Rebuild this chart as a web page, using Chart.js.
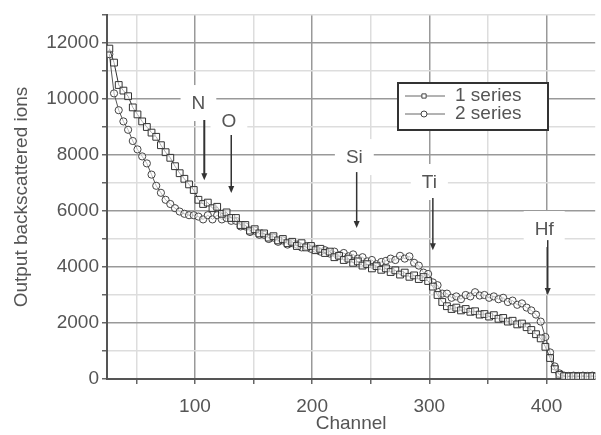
<!DOCTYPE html>
<html>
<head>
<meta charset="utf-8">
<script src="https://cdn.jsdelivr.net/npm/chart.js@4.4.0/dist/chart.umd.min.js"></script>
<style>
  html, body { margin: 0; padding: 0; background: #fff; }
  #wrap { position: relative; width: 601px; height: 435px; }
</style>
</head>
<body>
<div id="wrap"><canvas id="rbsChart"></canvas></div>
<script>
const channels = [
  27, 31, 35, 39, 43, 47, 51, 55, 59, 63,
  67, 71, 75, 79, 83, 87, 91, 95, 99, 103,
  107, 111, 115, 119, 123, 127, 131, 135, 139, 143,
  147, 151, 155, 159, 163, 167, 171, 175, 179, 183,
  187, 191, 195, 199, 203, 207, 211, 215, 219, 223,
  227, 231, 235, 239, 243, 247, 251, 255, 259, 263,
  267, 271, 275, 279, 283, 287, 291, 295, 299, 303,
  307, 311, 315, 319, 323, 327, 331, 335, 339, 343,
  347, 351, 355, 359, 363, 367, 371, 375, 379, 383,
  387, 391, 395, 399, 403, 407, 411, 415, 419, 423,
  427, 431, 435, 439, 443
];

// 1 series (squares)
const series1 = [
  11800, 11300, 10500, 10300, 10100, 9700, 9450, 9200, 9000, 8800,
  8650, 8350, 8100, 7900, 7600, 7350, 7150, 6950, 6750, 6400,
  6250, 6300, 6100, 6150, 5900, 5950, 5750, 5750, 5500, 5500,
  5300, 5350, 5200, 5200, 5050, 5100, 4950, 5000, 4850, 4900,
  4750, 4850, 4700, 4750, 4600, 4650, 4500, 4550, 4350, 4400,
  4250, 4300, 4150, 4200, 4050, 4100, 3950, 4030, 3900, 3950,
  3820, 3880, 3730, 3800, 3650, 3700, 3570, 3640, 3500, 3300,
  3000, 2750, 2600, 2500, 2550, 2450, 2500, 2400, 2420, 2300,
  2320, 2230, 2280, 2150, 2180, 2050, 2080, 1950, 1980, 1850,
  1750, 1600, 1450, 1150, 750, 350, 150, 100, 90, 100,
  90, 100, 90, 100, 90
];

// 2 series (circles)
const series2 = [
  11600, 10200, 9600, 9200, 8900, 8500, 8200, 7950, 7700, 7300,
  6900, 6650, 6400, 6250, 6100, 5980, 5900, 5850, 5850, 5800,
  5700, 5850, 5700, 5850, 5700, 5750, 5650, 5650, 5450, 5450,
  5250, 5300, 5150, 5150, 5000, 5050, 4900, 4950, 4800, 4850,
  4800, 4700, 4750, 4650, 4650, 4550, 4600, 4480, 4550, 4420,
  4500, 4380, 4450, 4300, 4350, 4200, 4250, 4100, 4180, 4220,
  4300, 4250, 4400, 4300, 4380, 4150, 4050, 3800, 3750, 3450,
  3350, 3050, 3050, 2900, 2950, 2850, 3000, 2950, 3100, 2980,
  3000, 2900, 2950, 2850, 2900, 2750, 2800, 2650, 2700, 2550,
  2450, 2300, 2050, 1500, 950, 450, 200, 120, 110, 120,
  110, 120, 110, 120, 110
];

const xTicks = [50, 100, 150, 200, 250, 300, 350, 400];
const yTicks = [0, 1000, 2000, 3000, 4000, 5000, 6000, 7000, 8000, 9000, 10000, 11000, 12000, 13000];

// element edges marked on the spectrum
const peakLabels = ['N', 'O', 'Si', 'Ti', 'Hf'];
const labelChannels = [103, 129, 236, 300, 398];
const labelCounts = [9820, 9180, 7890, 7000, 5320];
const arrowChannels = [108, 131, 238, 303, 401];
const arrowFrom = [9250, 8710, 7390, 6460, 4960];
const arrowTo = [7100, 6640, 5390, 4600, 3000];

const textFont = '19px "Liberation Sans", Arial, sans-serif';
const textColor = '#555';

const peakArrows = {
  id: 'peakArrows',
  afterDatasetsDraw(chart) {
    const {ctx, scales: {x, y}} = chart;
    ctx.save();
    ctx.font = textFont;
    ctx.textAlign = 'center';
    ctx.textBaseline = 'middle';
    peakLabels.forEach((txt, i) => {
      const lx = x.getPixelForValue(labelChannels[i]);
      const ly = y.getPixelForValue(labelCounts[i]);
      const w = ctx.measureText(txt).width;
      ctx.fillStyle = '#fff';
      ctx.fillRect(lx - w / 2 - 11, ly - 19, w + 22, 36);
      ctx.fillStyle = textColor;
      ctx.fillText(txt, lx, ly);

      const ax = x.getPixelForValue(arrowChannels[i]);
      const y0 = y.getPixelForValue(arrowFrom[i]);
      const y1 = y.getPixelForValue(arrowTo[i]);
      ctx.strokeStyle = '#333';
      ctx.lineWidth = i === 0 ? 2 : 1.5;
      ctx.beginPath();
      ctx.moveTo(ax, y0);
      ctx.lineTo(ax, y1 - 5);
      ctx.stroke();
      ctx.fillStyle = '#333';
      ctx.beginPath();
      ctx.moveTo(ax, y1);
      ctx.lineTo(ax - 3, y1 - 7);
      ctx.lineTo(ax + 3, y1 - 7);
      ctx.closePath();
      ctx.fill();
    });
    ctx.restore();
  }
};

const boxLegend = {
  id: 'boxLegend',
  afterDraw(chart) {
    const {ctx} = chart;
    const left = 398, top = 83, w = 150, h = 47;
    ctx.save();
    ctx.fillStyle = '#fff';
    ctx.fillRect(left, top, w, h);
    ctx.strokeStyle = '#333';
    ctx.lineWidth = 2;
    ctx.strokeRect(left, top, w, h);
    ctx.font = textFont;
    ctx.textBaseline = 'middle';
    chart.data.datasets.forEach((ds, i) => {
      const cy = top + 13 + i * 18;
      ctx.strokeStyle = '#666';
      ctx.lineWidth = 1;
      ctx.beginPath();
      ctx.moveTo(left + 7, cy);
      ctx.lineTo(left + 47, cy);
      ctx.stroke();
      ctx.fillStyle = '#fff';
      ctx.strokeStyle = '#444';
      Chart.helpers.drawPoint(ctx, {pointStyle: ds.pointStyle, radius: 3, borderWidth: 1, rotation: 0}, left + 26, cy);
      ctx.fillStyle = textColor;
      ctx.fillText(ds.label, left + 57, cy);
    });
    ctx.restore();
  }
};

const ctx = document.getElementById('rbsChart').getContext('2d');
const rbsChart = new Chart(ctx, {
  type: 'line',
  data: {
    datasets: [{
      label: '1 series',
      data: channels.map((c, i) => ({x: c, y: series1[i]})),
      pointStyle: 'rect',
      pointRadius: 4.8,
      borderColor: '#333',
      pointBorderColor: '#333',
      pointBackgroundColor: 'rgba(255,255,255,0.6)',
      pointBorderWidth: 1,
      borderWidth: 1,
      tension: 0
    }, {
      label: '2 series',
      data: channels.map((c, i) => ({x: c, y: series2[i]})),
      pointStyle: 'circle',
      pointRadius: 3.6,
      borderColor: '#555',
      pointBorderColor: '#444',
      pointBackgroundColor: 'rgba(255,255,255,0.6)',
      pointBorderWidth: 1,
      borderWidth: 1,
      tension: 0
    }]
  },
  options: {
    responsive: true,
    maintainAspectRatio: false,
    animation: false,
    layout: {
      padding: {top: 15, right: 1, left: 0, bottom: 0}
    },
    plugins: {
      legend: {display: false},
      tooltip: {enabled: false}
    },
    scales: {
      x: {
        type: 'linear',
        min: 25,
        max: 441.5,
        afterBuildTicks: (scale) => {
          scale.ticks = xTicks.map(v => ({value: v}));
        },
        afterFit: (scale) => {
          scale.height = 56;
        },
        ticks: {
          autoSkip: false,
          maxRotation: 0,
          padding: 11,
          color: textColor,
          font: {size: 19, family: '"Liberation Sans", Arial, sans-serif'},
          callback: (v) => (v % 100 === 0 ? v : '')
        },
        grid: {
          color: (c) => (c.tick && c.tick.value % 100 === 0 ? '#999' : '#ddd'),
          tickColor: '#666',
          tickLength: 5,
          lineWidth: 1.5
        },
        border: {color: '#555', width: 2},
        title: {
          display: true,
          text: 'Channel',
          color: textColor,
          padding: {top: 0, bottom: 0},
          font: {size: 19, family: '"Liberation Sans", Arial, sans-serif'}
        }
      },
      y: {
        type: 'linear',
        min: 0,
        max: 13000,
        afterBuildTicks: (scale) => {
          scale.ticks = yTicks.map(v => ({value: v}));
        },
        afterFit: (scale) => {
          scale.width = 107;
        },
        ticks: {
          autoSkip: false,
          padding: 3,
          color: textColor,
          font: {size: 19, family: '"Liberation Sans", Arial, sans-serif'},
          callback: (v) => (v % 2000 === 0 ? v : '')
        },
        grid: {
          color: (c) => (c.tick && c.tick.value % 2000 === 0 ? '#999' : '#ddd'),
          tickColor: '#666',
          tickLength: 5,
          lineWidth: 1.5
        },
        border: {color: '#555', width: 2},
        title: {
          display: true,
          text: 'Output backscattered ions',
          color: textColor,
          padding: {top: 10, bottom: 0},
          font: {size: 19, family: '"Liberation Sans", Arial, sans-serif'}
        }
      }
    }
  },
  plugins: [peakArrows, boxLegend]
});
</script>
</body>
</html>
